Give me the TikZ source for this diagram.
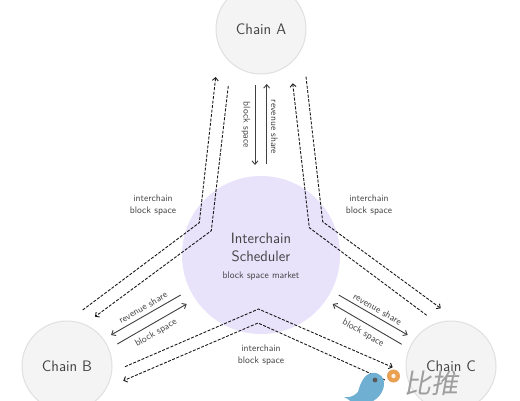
\documentclass[tikz,border=0pt]{standalone}
\usepackage{fontspec}
\newfontfamily\cjkf{Noto Sans CJK SC}
\usetikzlibrary{arrows.meta}
\definecolor{circ}{HTML}{F4F4F4}
\definecolor{circline}{HTML}{E0E0E0}
\definecolor{sched}{HTML}{E8E2FB}
\definecolor{txt}{HTML}{444444}
\definecolor{bird}{HTML}{6FAFD2}
\definecolor{coin}{HTML}{E9A050}
\tikzset{
 chain/.style={circle,draw=circline,line width=1pt,fill=circ,minimum size=90pt,inner sep=0pt,text=txt,font=\sffamily\fontsize{15.2}{17}\selectfont},
 lab/.style={text=txt,font=\sffamily\fontsize{9.6}{12.2}\selectfont,align=center,inner sep=0pt},
 flow/.style={line width=0.9pt,draw=black!75,-{Straight Barb[length=3.5pt,width=6pt]}},
 dflow/.style={line width=0.9pt,draw=black!90,dash pattern=on 3pt off 1.5pt,line join=miter},
 dtip/.style={-{Straight Barb[length=3pt,width=6pt]}}
}
\begin{document}
\begin{tikzpicture}[x=1pt,y=-1pt]
\useasboundingbox (0,0) rectangle (520,400);
\clip (0,0) rectangle (520,400);
\fill[white] (0,0) rectangle (520,400);
\node[circle,fill=sched,minimum size=158pt,inner sep=0pt] (sch) at (261,255) {};
\node[chain] (a) at (261,29) {Chain A};
\node[chain] (b) at (67,366) {Chain B};
\node[chain] (c) at (451,366) {Chain C};
\node[text=txt,font=\sffamily\fontsize{15}{18.5}\selectfont,align=center,inner sep=0pt] (schT) at (261,247.5) {Interchain\\Scheduler};
\node[lab] (schS) at (261,276) {block space market};
% free ends
\coordinate (ab1a) at (215.7,77); \coordinate (ab1m) at (199.3,222.7); \coordinate (ab1b) at (82.7,310);
\coordinate (ab2a) at (228.3,86); \coordinate (ab2m) at (211.3,230.7); \coordinate (ab2b) at (95,316.7);
\coordinate (ac1a) at (292.7,83.3); \coordinate (ac1m) at (309.3,227.7); \coordinate (ac1c) at (426.7,315.3);
\coordinate (ac2a) at (306,76.7); \coordinate (ac2m) at (322.7,221.7); \coordinate (ac2c) at (440.7,308.3);
\coordinate (bc1b) at (125,366.7); \coordinate (bc1m) at (258.5,309); \coordinate (bc1c) at (392.7,367.3);
\coordinate (bc2b) at (123.3,380.7); \coordinate (bc2m) at (258,323); \coordinate (bc2c) at (385,380);
\draw[dflow,dtip] (ab1b) -- (ab1m) -- (ab1a);
\draw[dflow,dtip] (ab2a) -- (ab2m) -- (ab2b);
\draw[dflow,dtip] (ac1c) -- (ac1m) -- (ac1a);
\draw[dflow,dtip] (ac2a) -- (ac2m) -- (ac2c);
\draw[dflow,dtip] (bc1b) -- (bc1m) -- (bc1c);
\draw[dflow,dtip] (bc2c) -- (bc2m) -- (bc2b);
% solid
\coordinate (sa1) at (255,85); \coordinate (sa2) at (255,165);
\coordinate (sa3) at (266.7,163.5); \coordinate (sa4) at (266.7,84);
\coordinate (sb1) at (180.7,295); \coordinate (sb2) at (111,335);
\coordinate (sb3) at (117.3,344); \coordinate (sb4) at (186.7,304);
\coordinate (sc1) at (338.7,295); \coordinate (sc2) at (407.7,335);
\coordinate (sc3) at (401.7,344.3); \coordinate (sc4) at (332.7,304);
\draw[flow] (sa1) -- (sa2);
\draw[flow] (sa3) -- (sa4);
\draw[flow] (sb1) -- (sb2);
\draw[flow] (sb3) -- (sb4);
\draw[flow] (sc1) -- (sc2);
\draw[flow] (sc3) -- (sc4);
% labels
\node[lab,rotate=-90] (l1) at (246,125) {block space};
\node[lab,rotate=-90] (l2) at (274.5,127) {revenue share};
\node[lab,rotate=30] (l3) at (143,307.5) {revenue share};
\node[lab,rotate=30] (l4) at (156,333) {block space};
\node[lab,rotate=-30] (l5) at (377.5,309) {revenue share};
\node[lab,rotate=-30] (l6) at (363,333) {block space};
\node[lab] (l7) at (153,205) {interchain\\block space};
\node[lab] (l8) at (369,205) {interchain\\block space};
\node[lab] (l9) at (261,355) {interchain\\block space};
% watermark
\node[text=black!38,font=\cjkf\fontsize{27}{27}\selectfont,inner sep=0pt,xslant=0.18] (wm) at (433,383) {比推};
\fill[bird] (344,397) .. controls (350,398) and (354,396) .. (358,392) .. controls (360,384) and (364,374) .. (372,373) .. controls (380,372) and (385,378) .. (384,385) .. controls (383,394) and (376,401) .. (368,403) -- (350,403) .. controls (352,401) and (348,399) .. cycle;
\fill[black!65] (375,380) circle (2.4pt);
\fill[coin] (393.5,376) circle (6.5pt);
\fill[white!85!coin] (393.5,376) circle (2.2pt);
\end{tikzpicture}
\end{document}
